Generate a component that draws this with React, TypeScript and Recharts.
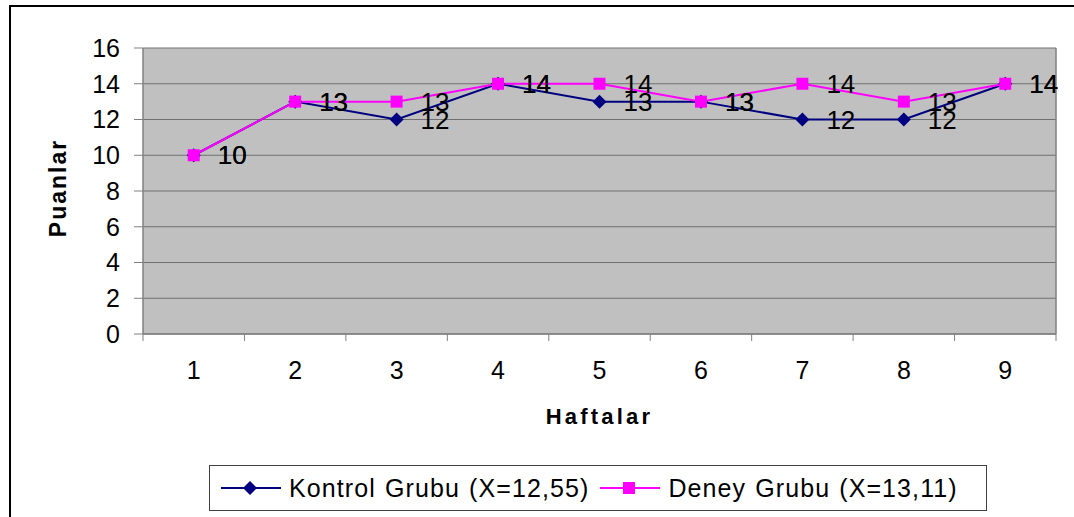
import { LineChart, Line, XAxis, YAxis, CartesianGrid, LabelList, Label } from "recharts";

const weeks = ["1", "2", "3", "4", "5", "6", "7", "8", "9"];
const kontrol = [10, 13, 12, 14, 13, 13, 12, 12, 14];
const deney = [10, 13, 13, 14, 14, 13, 14, 13, 14];
const yTicks = [0, 2, 4, 6, 8, 10, 12, 14, 16];

const kontrolName = "Kontrol Grubu (X=12,55)";
const deneyName = "Deney Grubu (X=13,11)";

const data = weeks.map((w, i) => ({ week: w, kontrol: kontrol[i], deney: deney[i] }));

const FONT = "'Liberation Sans', Arial, sans-serif";
const NAVY = "#000080";
const MAGENTA = "#ff00ff";

const Diamond = ({ cx, cy, size = 7 }: any) => (
  <polygon
    points={`${cx},${cy - size} ${cx + size},${cy} ${cx},${cy + size} ${cx - size},${cy}`}
    fill={NAVY}
  />
);

const Square = ({ cx, cy, size = 6 }: any) => (
  <rect x={cx - size} y={cy - size} width={size * 2} height={size * 2} fill={MAGENTA} />
);

// category labels sit in the middle of each band, tick marks on the band edges
const XTick = (props: any) => {
  const { x, y, payload, index } = props;
  const half = payload.offset || 0;
  return (
    <g>
      <line x1={x - half} y1={y} x2={x - half} y2={y + 7} stroke="#808080" />
      {index === weeks.length - 1 && (
        <line x1={x + half} y1={y} x2={x + half} y2={y + 7} stroke="#808080" />
      )}
      <text x={x} y={y + 36} textAnchor="middle" dominantBaseline="central" fontSize={25} fill="#000" fontFamily={FONT}>
        {payload.value}
      </text>
    </g>
  );
};

const ValueLabel = (props: any) => {
  const { x, y, value } = props;
  return (
    <text x={x + 24} y={y} dominantBaseline="central" fontSize={26} fill="#000" fontFamily={FONT}>
      {value}
    </text>
  );
};

const LegendIcon = ({ kind, color }: { kind: "diamond" | "square"; color: string }) => (
  <svg width={60} height={20} style={{ marginRight: 8, flexShrink: 0 }}>
    <line x1={0} y1={10} x2={60} y2={10} stroke={color} strokeWidth={2} />
    {kind === "diamond" ? <Diamond cx={29} cy={10} size={7} /> : <Square cx={29} cy={10} size={6} />}
  </svg>
);

const LegendBox = () => (
  <div
    style={{
      position: "absolute",
      left: 209,
      top: 465,
      boxSizing: "border-box",
      width: 778,
      height: 46,
      border: "1px solid #404040",
      background: "#fff",
      display: "flex",
      alignItems: "center",
      paddingLeft: 11,
      fontFamily: FONT,
      fontSize: 25,
      letterSpacing: 1.1,
      wordSpacing: 1,
      color: "#000",
      whiteSpace: "nowrap",
    }}
  >
    <LegendIcon kind="diamond" color={NAVY} />
    <span style={{ marginRight: 11 }}>{kontrolName}</span>
    <LegendIcon kind="square" color={MAGENTA} />
    <span>{deneyName}</span>
  </div>
);

export default function App() {
  return (
    <div style={{ position: "absolute", left: 0, top: 0, width: 1074, height: 517, overflow: "hidden", background: "#fff" }}>
      <div
        style={{
          position: "absolute",
          left: 9,
          top: 5,
          width: 1100,
          height: 600,
          border: "2px solid #000",
          boxSizing: "border-box",
        }}
      />
      <div style={{ position: "absolute", left: 0, top: 0 }}>
        <LineChart width={1074} height={517} data={data} margin={{ top: 48, right: 0, bottom: 0, left: 0 }}>
          <CartesianGrid vertical={false} fill="#c0c0c0" stroke="#707070" strokeWidth={1.2} fillOpacity={1} />
          <XAxis
            dataKey="week"
            scale="band"
            height={183}
            tickSize={0}
            tickMargin={0}
            tickLine={false}
            axisLine={{ stroke: "#808080", strokeWidth: 1.5 }}
            tick={<XTick />}
            interval={0}
          >
            <Label
              content={({ viewBox }: any) => (
                <text
                  x={viewBox.x + viewBox.width / 2}
                  y={viewBox.y + 82}
                  textAnchor="middle"
                  dominantBaseline="central"
                  fontSize={22}
                  fontWeight="bold"
                  letterSpacing={3.2}
                  fontFamily={FONT}
                  fill="#000"
                >
                  Haftalar
                </text>
              )}
            />
          </XAxis>
          <YAxis
            width={143}
            domain={[0, 16]}
            ticks={yTicks}
            interval={0}
            tickSize={9}
            tickMargin={14}
            tickLine={{ stroke: "#808080" }}
            axisLine={{ stroke: "#808080", strokeWidth: 1.5 }}
            tick={{ fontSize: 25, fill: "#000", fontFamily: FONT }}
          >
            <Label
              content={({ viewBox }: any) => {
                const cx = viewBox.x + 58;
                const cy = viewBox.y + viewBox.height / 2 - 3;
                return (
                  <text
                    x={cx}
                    y={cy}
                    transform={`rotate(-90, ${cx}, ${cy})`}
                    textAnchor="middle"
                    dominantBaseline="central"
                    fontSize={23}
                    fontWeight="bold"
                    letterSpacing={2}
                    fontFamily={FONT}
                    fill="#000"
                  >
                    Puanlar
                  </text>
                );
              }}
            />
          </YAxis>
          <YAxis
            yAxisId="right"
            orientation="right"
            width={18}
            domain={[0, 16]}
            tick={false}
            tickLine={false}
            axisLine={{ stroke: "#808080", strokeWidth: 1.5 }}
          />
          <Line
            dataKey="kontrol"
            name={kontrolName}
            stroke={NAVY}
            strokeWidth={2}
            dot={(p: any) => <Diamond key={`k${p.index}`} cx={p.cx} cy={p.cy} />}
            isAnimationActive={false}
          >
            <LabelList dataKey="kontrol" content={<ValueLabel />} />
          </Line>
          <Line
            dataKey="deney"
            name={deneyName}
            stroke={MAGENTA}
            strokeWidth={2}
            dot={(p: any) => <Square key={`d${p.index}`} cx={p.cx} cy={p.cy} />}
            isAnimationActive={false}
          >
            <LabelList dataKey="deney" content={<ValueLabel />} />
          </Line>
        </LineChart>
      </div>
      <LegendBox />
    </div>
  );
}
